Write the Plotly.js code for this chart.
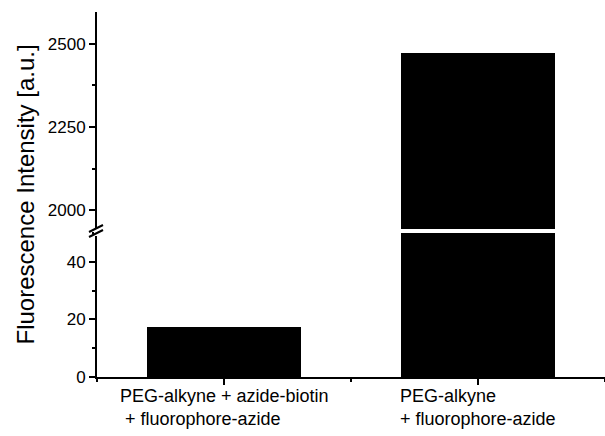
<!DOCTYPE html>
<html>
<head>
<meta charset="utf-8">
<script src="https://cdn.plot.ly/plotly-3.0.1.min.js"></script>
<style>html,body{margin:0;padding:0;background:#fff}#chart{width:605px;height:436px}</style>
</head>
<body>
<div id="chart"></div>
<script>
var categories = ["PEG-alkyne + azide-biotin<br> + fluorophore-azide", "PEG-alkyne<br>+ fluorophore-azide"];
var positions = [0, 1];
var intensity = [17.4, 2473];
var lowerTicks = [0, 20, 40];
var upperTicks = [2000, 2250, 2500];

var FONT = "Liberation Sans, Arial, Helvetica, sans-serif";

var traces = [
  {type: "bar", x: positions, y: intensity, xaxis: "x", yaxis: "y", width: 0.61,
   marker: {color: "#000", line: {width: 0}}, hoverinfo: "skip", showlegend: false},
  {type: "bar", x: positions, y: intensity, xaxis: "x", yaxis: "y2", width: 0.61,
   marker: {color: "#000", line: {width: 0}}, hoverinfo: "skip", showlegend: false}
];

var annotations = categories.map(function (c, i) {
  return {text: c, x: positions[i], xref: "x", y: 0, yref: "paper", yanchor: "top",
    xanchor: "center", align: "left", showarrow: false, yshift: -7,
    font: {family: FONT, size: 18, color: "#000"}};
});

var axisCommon = {showline: true, linecolor: "#000", linewidth: 2, ticks: "outside",
  ticklen: 6, tickwidth: 2, tickcolor: "#000", showgrid: false, zeroline: false,
  tickfont: {family: FONT, size: 17, color: "#000"}};

var layout = {
  width: 605, height: 436,
  margin: {l: 97, r: 0, t: 12, b: 59, pad: 0},
  paper_bgcolor: "#fff", plot_bgcolor: "#fff",
  bargap: 0,
  xaxis: Object.assign({}, axisCommon, {range: [-0.5, 1.5], tickvals: positions,
    showticklabels: false, anchor: "y",
    minor: {tick0: -0.5, dtick: 1, ticklen: 3, tickwidth: 2, tickcolor: "#000", ticks: "outside"}}),
  yaxis: Object.assign({}, axisCommon, {domain: [0, 0.3945], range: [0, 50], tickvals: lowerTicks,
    anchor: "x",
    minor: {tick0: 0, dtick: 10, ticklen: 3, tickwidth: 2, tickcolor: "#000", ticks: "outside"}}),
  yaxis2: Object.assign({}, axisCommon, {domain: [0.4055, 1], range: [1943, 2596], tickvals: upperTicks,
    anchor: "x",
    minor: {tick0: 2000, dtick: 125, ticklen: 3, tickwidth: 2, tickcolor: "#000", ticks: "outside"}}),
  annotations: annotations.concat([{
    text: "Fluorescence Intensity [a.u.]", xref: "paper", yref: "paper", x: 0, y: 0.5,
    xanchor: "center", yanchor: "middle", xshift: -72, textangle: -90, showarrow: false,
    font: {family: FONT, size: 24, color: "#000"}
  }]),
  shapes: [
    {type: "rect", xref: "paper", yref: "paper", xsizemode: "pixel", ysizemode: "pixel",
     xanchor: 0, yanchor: 0.4, x0: -3, x1: 3, y0: -5, y1: 3, fillcolor: "#fff", line: {width: 0}},
    {type: "line", xref: "paper", yref: "paper", xsizemode: "pixel", ysizemode: "pixel",
     xanchor: 0, yanchor: 0.4, x0: -8, x1: 6, y0: -1, y1: 6, line: {color: "#000", width: 2}},
    {type: "line", xref: "paper", yref: "paper", xsizemode: "pixel", ysizemode: "pixel",
     xanchor: 0, yanchor: 0.4, x0: -8, x1: 6, y0: -6, y1: 1, line: {color: "#000", width: 2}}
  ]
};

Plotly.newPlot("chart", traces, layout, {staticPlot: true, displayModeBar: false});
</script>
</body>
</html>
